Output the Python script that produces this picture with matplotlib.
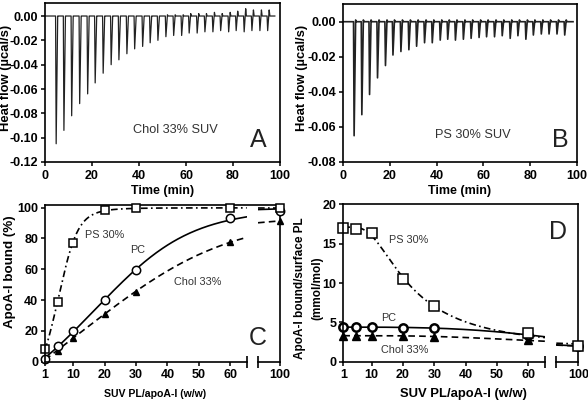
import numpy as np
import matplotlib
matplotlib.use("Agg")
import matplotlib.pyplot as plt

plt.rcParams.update({
    "font.family": ["Liberation Sans", "DejaVu Sans"],
    "axes.unicode_minus": False,
    "axes.linewidth": 1.2,
    "xtick.direction": "out",
    "ytick.direction": "out",
    "xtick.major.size": 3,
    "ytick.major.size": 3,
    "xtick.major.width": 1.1,
    "ytick.major.width": 1.1,
    "xtick.major.pad": 2.5,
    "ytick.major.pad": 2,
    "xtick.labelsize": 9,
    "ytick.labelsize": 9,
})

# ITC injections (min) and peak depths (ucal/s)
inj_time = [4.5, 7.8, 11.1, 14.5, 17.9, 21.1, 24.5, 27.9, 31.2, 34.6, 37.9, 41.3, 44.5, 47.8,
            51.2, 54.5, 57.9, 61.1, 64.5, 67.8, 71.2, 74.5, 77.9, 81.1, 84.5, 87.8, 91.2, 94.5]
chol_peaks = [-0.105, -0.094, -0.082, -0.072, -0.064, -0.055, -0.047, -0.040, -0.036, -0.031,
              -0.027, -0.025, -0.022, -0.020, -0.017, -0.016, -0.016, -0.014, -0.014, -0.013,
              -0.013, -0.012, -0.013, -0.012, -0.013, -0.012, -0.012, -0.012]
chol_overshoot = [0, 0, 0, 0, 0, 0, 0, 0, 0, 0, 0, 0, 0, 0, 0.001, 0.001, 0.001, 0.002, 0.002,
                  0.002, 0.003, 0.002, 0.003, 0.004, 0.006, 0.005, 0.005, 0.005]
ps_peaks = [-0.065, -0.053, -0.0415, -0.032, -0.025, -0.019, -0.017, -0.016, -0.014, -0.012,
            -0.012, -0.0105, -0.010, -0.0105, -0.010, -0.0095, -0.009, -0.0086, -0.0086, -0.008,
            -0.0095, -0.008, -0.010, -0.0076, -0.007, -0.007, -0.007, -0.0076]
ps_overshoot = [0.001] * 28

# binding data
ratio = [1, 5, 10, 20, 30, 60, 100]
bound_ps = [8, 39, 77, 98.5, 99.5, 100, 100]
bound_pc = [2, 10, 20, 40, 59.5, 93.5, 98]
bound_chol = [1.5, 7, 15.5, 31, 45.5, 78, 91]
surf_ps = [17, 16.9, 16.4, 10.5, 7.1, 3.6, 2.0]
surf_pc = [4.4, 4.4, 4.4, 4.3, 4.3, 3.4, 2.0]
surf_chol = [3.3, 3.3, 3.3, 3.3, 3.2, 2.7, 2.0]

W, H = 588, 403
fig = plt.figure(figsize=(W / 100, H / 100), dpi=100)


def box(x0, x1, y0, y1):
    return [x0 / W, 1 - y1 / H, (x1 - x0) / W, (y1 - y0) / H]


def fit_curve(x, y):
    # least squares asymmetric logistic, grid over K, n, s; bottom/top solved linearly
    x = np.asarray(x, float)
    y = np.asarray(y, float)
    K, N, S = np.meshgrid(np.logspace(0, 2.5, 120), np.linspace(0.5, 8, 80),
                          [0.3, 0.5, 0.7, 1, 1.5, 2, 3, 4], indexing="ij")
    f = (1 + (K[..., None] / x) ** N[..., None]) ** -S[..., None]
    fm = f.mean(-1, keepdims=True)
    b = ((f - fm) * (y - y.mean())).sum(-1) / ((f - fm) ** 2).sum(-1)
    a = y.mean() - b * fm[..., 0]
    res = ((a[..., None] + b[..., None] * f - y) ** 2).sum(-1)
    i = np.unravel_index(np.nanargmin(res), res.shape)
    return lambda xx: a[i] + b[i] * (1 + (K[i] / xx) ** N[i]) ** -S[i]


def thermogram(ax, peaks, over, end, lw):
    xs, ys = [0], [0]
    for t, d, u in zip(inj_time, peaks, over):
        xs += [t, t + 0.25, t + 0.9, t + 1.2]
        ys += [0, d, u, 0]
    xs.append(end)
    ys.append(0)
    ax.plot(xs, ys, color="#222222", lw=lw)


# ---- A ----
axA = fig.add_axes(box(45, 280, 3, 162))
thermogram(axA, chol_peaks, chol_overshoot, 97.8, 0.9)
axA.set_xlim(0, 100)
axA.set_ylim(-0.12, 0.0107)
axA.set_xticks(range(0, 101, 20))
axA.set_yticks(np.arange(-0.12, 0.001, 0.02))
axA.yaxis.set_major_formatter(matplotlib.ticker.FormatStrFormatter("%.2f"))

# ---- B ----
axB = fig.add_axes(box(343, 577, 4, 162))
thermogram(axB, ps_peaks, ps_overshoot, 98.3, 1.2)
axB.set_xlim(0, 100)
axB.set_ylim(-0.08, 0.0101)
axB.set_xticks(range(0, 101, 20))
axB.set_yticks(np.arange(-0.08, 0.001, 0.02))
axB.yaxis.set_major_formatter(matplotlib.ticker.FormatStrFormatter("%.2f"))

for ax in (axA, axB):
    for lab in ax.get_xticklabels() + ax.get_yticklabels():
        lab.set_fontweight("bold")

fig.text(175 / W, 1 - 130 / H, "Chol 33% SUV", fontsize=9.2, color="#333333", ha="center", va="center")
fig.text(473 / W, 1 - 135 / H, "PS 30% SUV", fontsize=9.2, color="#333333", ha="center", va="center")
fig.text(258 / W, 1 - 140 / H, "A", fontsize=18, ha="center", va="center", color="#222222")
fig.text(560 / W, 1 - 140 / H, "B", fontsize=18, ha="center", va="center", color="#222222")
for xc in (6, 302):
    fig.text(xc / W, 1 - 78 / H, "Heat flow (\u00b5cal/s)", rotation=90, fontsize=9.4,
             fontweight="bold", ha="center", va="center")
for xc in (162.5, 460):
    fig.text(xc / W, 1 - 191 / H, "Time (min)", fontsize=9, fontweight="bold", ha="center", va="center")


# ---- C and D: broken x axis ----
def broken_panel(x0, y_top, ymax, yticks):
    frame = fig.add_axes(box(x0, x0 + 235, y_top, 361.7))
    frame.set_xticks([])
    frame.set_yticks([])
    frame.spines["bottom"].set_visible(False)
    frame.spines["left"].set_visible(False)
    left = fig.add_axes(box(x0, x0 + 201.7, y_top, 361.7))
    right = fig.add_axes(box(x0 + 213, x0 + 235, y_top, 361.7))
    for ax in (left, right):
        ax.set_facecolor("none")
        ax.spines["top"].set_visible(False)
        ax.spines["right"].set_visible(False)
        ax.set_ylim(0, ymax)
    left.set_xlim(1, 65.3)
    right.set_xlim(93, 100)
    left.set_xticks([1, 10, 20, 30, 40, 50, 60])
    right.set_xticks([100])
    left.set_yticks(yticks)
    right.set_yticks([])
    right.spines["left"].set_visible(False)
    left.plot([65.3], [0], marker="|", ms=9, mew=1.2, color="k", clip_on=False)
    right.plot([93], [0], marker="|", ms=9, mew=1.2, color="k", clip_on=False)
    for ax in (left, right):
        for lab in ax.get_xticklabels() + ax.get_yticklabels():
            lab.set_fontweight("bold")
    return left, right


def draw_series(axes, y, marker, mfc, ms, mew, ls):
    f = fit_curve(ratio, y)
    xr = np.asarray(ratio, float)
    yr = np.asarray(y, float)
    for ax, (a, b) in zip(axes, [(1, 65.3), (93, 100)]):
        xx = np.linspace(a, b, 200)
        ax.plot(xx, f(xx), color="k", lw=1.2, ls=ls)
        m = (xr >= a) & (xr <= b)
        ax.plot(xr[m], yr[m], ls="none", marker=marker, mfc=mfc, mec="k", ms=ms, mew=mew,
                color="k", clip_on=False)


dashed = (0, (4, 2.5))
dashdot = (0, (4, 2, 1, 2))

cl, cr = broken_panel(45, 205, 101.7, range(0, 101, 20))
draw_series((cl, cr), bound_chol, "^", "k", 4.5, 1, dashed)
draw_series((cl, cr), bound_pc, "o", "white", 6, 1.1, "-")
draw_series((cl, cr), bound_ps, "s", "white", 6, 1.1, dashdot)

dl, dr = broken_panel(343.3, 204.3, 20, range(0, 21, 5))
draw_series((dl, dr), surf_chol, "^", "k", 6, 1, dashed)
draw_series((dl, dr), surf_pc, "o", "white", 6, 1.8, "-")
draw_series((dl, dr), surf_ps, "s", "white", 6.5, 1.1, dashdot)

ann = dict(fontsize=7.8, color="#333333", ha="center", va="center")
fig.text(104.5 / W, 1 - 235 / H, "PS 30%", **ann)
fig.text(138 / W, 1 - 250 / H, "PC", **ann)
fig.text(197.5 / W, 1 - 282 / H, "Chol 33%", **ann)
fig.text(409 / W, 1 - 240 / H, "PS 30%", **ann)
fig.text(389 / W, 1 - 318 / H, "PC", **ann)
fig.text(405 / W, 1 - 350 / H, "Chol 33%", **ann)
fig.text(258 / W, 1 - 338 / H, "C", fontsize=18, ha="center", va="center", color="#222222")
fig.text(558 / W, 1 - 232 / H, "D", fontsize=18, ha="center", va="center", color="#222222")

fig.text(10 / W, 1 - 271.5 / H, "ApoA-I bound (%)", rotation=90, fontsize=9.6,
         fontweight="bold", ha="center", va="center")
fig.text(300 / W, 1 - 288 / H, "ApoA-I bound/surface PL", rotation=90, fontsize=8.5,
         fontweight="bold", ha="center", va="center")
fig.text(317 / W, 1 - 288 / H, "(mmol/mol)", rotation=90, fontsize=8.5,
         fontweight="bold", ha="center", va="center")
fig.text(155 / W, 1 - 394 / H, "SUV PL/apoA-I (w/w)", fontsize=7.6, fontweight="bold",
         ha="center", va="center")
fig.text(463 / W, 1 - 394 / H, "SUV PL/apoA-I (w/w)", fontsize=9.4, fontweight="bold",
         ha="center", va="center")

fig.savefig("out.png", dpi=100)
